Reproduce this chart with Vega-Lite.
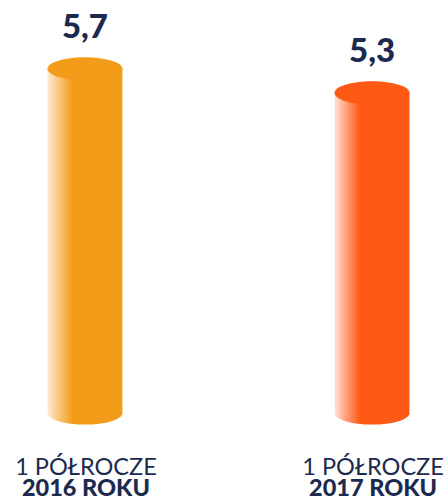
{
  "$schema": "https://vega.github.io/schema/vega-lite/v6.json",
  "width": 448,
  "height": 425,
  "autosize": {"type": "none"},
  "padding": {"left": 0, "top": 0, "right": 0, "bottom": 76},
  "background": "white",
  "config": {"view": {"stroke": null}, "font": "Lato"},
  "data": {"values": [
    {"year": "2016", "value": 5.7, "label": "5,7"},
    {"year": "2017", "value": 5.3, "label": "5,3"}
  ]},
  "resolve": {"axis": {"x": "independent"}},
  "layer": [
    {
      "mark": {"type": "bar", "strokeWidth": 0},
      "encoding": {
        "x": {"field": "year", "type": "nominal", "sort": null,
          "scale": {"type": "band", "domain": ["2016", "2017"], "range": [47.5, 409.5], "paddingInner": 0.739, "paddingOuter": 0},
          "axis": {"orient": "bottom", "title": null, "labelExpr": "'1 PÓŁROCZE'", "labelAngle": 0, "labelFont": "Lato", "labelFontSize": 23.5, "labelColor": "#1B2A4E", "labelPadding": 49, "labelBaseline": "alphabetic", "labelOffset": 1, "ticks": false, "tickSize": 0, "domain": false, "grid": false}},
        "y": {"field": "value", "type": "quantitative", "scale": {"domain": [-0.2, 6.84], "nice": false, "zero": false}, "axis": null},
        "fill": {
          "condition": {"test": "datum.year === '2016'", "value": {"gradient": "linear", "x1": 0, "y1": 0, "x2": 1, "y2": 0, "stops": [{"offset": 0, "color": "#FDEBD2"}, {"offset": 0.15, "color": "#F8C67E"}, {"offset": 0.34, "color": "#F39C1A"}, {"offset": 1, "color": "#F39C1A"}]}},
          "value": {"gradient": "linear", "x1": 0, "y1": 0, "x2": 1, "y2": 0, "stops": [{"offset": 0, "color": "#FFE3D6"}, {"offset": 0.15, "color": "#FFA27E"}, {"offset": 0.34, "color": "#FE5A15"}, {"offset": 1, "color": "#FE5A15"}]}
        }
      }
    },
    {
      "mark": {"type": "point", "filled": true, "opacity": 1, "strokeWidth": 0, "size": 5625, "shape": "M -1 0 A 1 0.31 0 0 0 1 0 Z"},
      "encoding": {
        "x": {"field": "year", "type": "nominal", "sort": null, "axis": null},
        "y": {"datum": 0},
        "fill": {
          "condition": {"test": "datum.year === '2016'", "value": {"gradient": "linear", "x1": 0, "y1": 0, "x2": 1, "y2": 0, "stops": [{"offset": 0, "color": "#FDEBD2"}, {"offset": 0.15, "color": "#F8C67E"}, {"offset": 0.34, "color": "#F39C1A"}, {"offset": 1, "color": "#F39C1A"}]}},
          "value": {"gradient": "linear", "x1": 0, "y1": 0, "x2": 1, "y2": 0, "stops": [{"offset": 0, "color": "#FFE3D6"}, {"offset": 0.15, "color": "#FFA27E"}, {"offset": 0.34, "color": "#FE5A15"}, {"offset": 1, "color": "#FE5A15"}]}
        }
      }
    },
    {
      "mark": {"type": "point", "filled": true, "opacity": 1, "strokeWidth": 0, "size": 5625, "shape": "M -1 0 A 1 0.31 0 1 1 1 0 A 1 0.31 0 1 1 -1 0 Z"},
      "encoding": {
        "x": {"field": "year", "type": "nominal", "sort": null, "axis": null},
        "y": {"field": "value", "type": "quantitative"},
        "fill": {"condition": {"test": "datum.year === '2016'", "value": "#F39C1A"}, "value": "#FE5A15"}
      }
    },
    {
      "mark": {"type": "text", "baseline": "alphabetic", "align": "center", "dy": -31, "fontSize": 33, "fontWeight": 900, "font": "Lato", "fill": "#1B2A4E"},
      "encoding": {
        "x": {"field": "year", "type": "nominal", "sort": null,
          "axis": {"orient": "bottom", "title": null, "labelExpr": "datum.label + ' ROKU'", "labelAngle": 0, "labelFont": "Lato", "labelFontSize": 23.5, "labelFontWeight": 900, "labelColor": "#1B2A4E", "labelPadding": 70, "labelBaseline": "alphabetic", "labelOffset": 1, "ticks": false, "tickSize": 0, "domain": false, "grid": false}},
        "y": {"field": "value", "type": "quantitative"},
        "text": {"field": "label"}
      }
    }
  ]
}
